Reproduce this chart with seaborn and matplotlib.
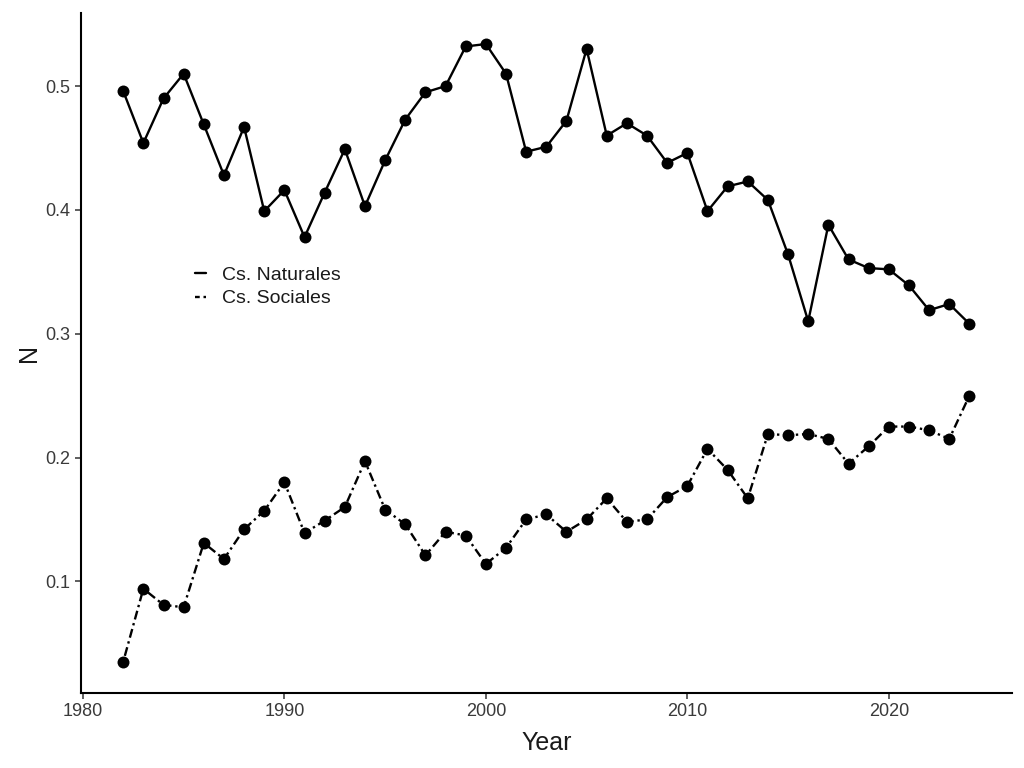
import matplotlib
matplotlib.use("Agg")
import matplotlib.pyplot as plt
from matplotlib.lines import Line2D
import seaborn as sns
import pandas as pd

years = list(range(1982, 2025))
naturales = [0.496, 0.454, 0.490, 0.510, 0.469, 0.428, 0.467, 0.399, 0.416, 0.378,
             0.414, 0.449, 0.403, 0.440, 0.473, 0.495, 0.500, 0.532, 0.534, 0.510,
             0.447, 0.451, 0.472, 0.530, 0.460, 0.470, 0.460, 0.438, 0.446, 0.399,
             0.419, 0.423, 0.408, 0.364, 0.310, 0.388, 0.360, 0.353, 0.352, 0.339,
             0.319, 0.324, 0.308]
sociales = [0.035, 0.094, 0.081, 0.079, 0.131, 0.118, 0.142, 0.157, 0.180, 0.139,
            0.149, 0.160, 0.197, 0.158, 0.146, 0.121, 0.140, 0.137, 0.114, 0.127,
            0.150, 0.154, 0.140, 0.150, 0.167, 0.148, 0.150, 0.168, 0.177, 0.207,
            0.190, 0.167, 0.219, 0.218, 0.219, 0.215, 0.195, 0.209, 0.225, 0.225,
            0.222, 0.215, 0.250]
series_names = ["Cs. Naturales", "Cs. Sociales"]

df = pd.DataFrame({
    "Year": years * 2,
    "N": naturales + sociales,
    "Field": [series_names[0]] * len(years) + [series_names[1]] * len(years),
})

sns.set_theme(style="ticks")
plt.rcParams["font.family"] = ["Liberation Sans", "DejaVu Sans"]

fig = plt.figure(figsize=(10.24, 7.68), dpi=100)
ax = fig.add_axes([0.079, 0.098, 0.909, 0.885])

sns.lineplot(data=df, x="Year", y="N", style="Field",
             dashes={series_names[0]: "", series_names[1]: (1, 1.6, 3.8, 1.6)},
             markers={series_names[0]: "o", series_names[1]: "o"},
             color="black", linewidth=1.7, markersize=8.6, markeredgewidth=0,
             legend=False, ax=ax)

ax.set_xlim(1979.9, 2026.1)
ax.set_ylim(0.010, 0.559)
ax.set_xticks([1980, 1990, 2000, 2010, 2020])
ax.set_yticks([0.1, 0.2, 0.3, 0.4, 0.5])
ax.set_yticklabels(["0.1", "0.2", "0.3", "0.4", "0.5"])

sns.despine(ax=ax)
for s in ["left", "bottom"]:
    ax.spines[s].set_linewidth(1.5)
    ax.spines[s].set_color("black")
ax.tick_params(axis="both", labelsize=13, length=4.5, width=1.1,
               labelcolor="#3A3A3A", color="#333333", pad=3)
ax.set_xlabel("Year", fontsize=18, labelpad=8, color="#1A1A1A")
ax.set_ylabel("N", fontsize=18, labelpad=3, color="#1A1A1A")

handles = [Line2D([], [], color="black", linewidth=1.7, linestyle="-"),
           Line2D([], [], color="black", linewidth=1.7, dashes=(2.0, 1.6))]
ax.legend(handles, series_names, loc="upper left", bbox_to_anchor=(0.108, 0.648),
          frameon=False, fontsize=14, handlelength=0.56, handletextpad=0.82,
          labelspacing=0.32, borderpad=0.2, labelcolor="#1A1A1A")

fig.savefig("out.png", dpi=100)
